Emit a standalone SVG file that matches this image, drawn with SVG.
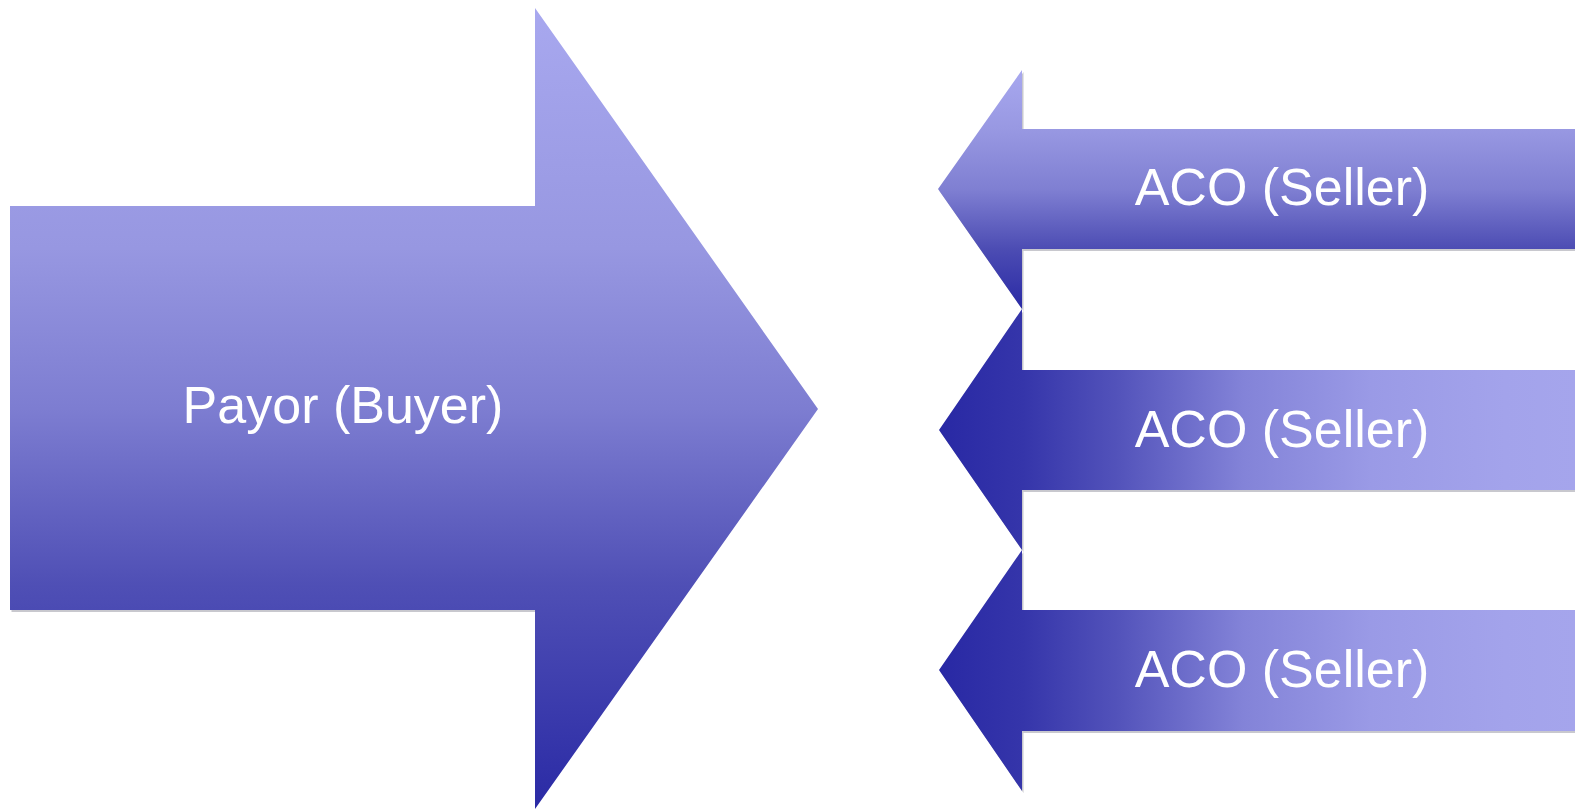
<svg xmlns="http://www.w3.org/2000/svg" width="1575" height="810" viewBox="0 0 1575 810">
  <defs>
    <!-- vertical fill of the buyer arrow -->
    <linearGradient id="gBuyer" gradientUnits="userSpaceOnUse" x1="0" y1="8" x2="0" y2="810">
      <stop offset="0" stop-color="#a8a8ef"/>
      <stop offset="0.3" stop-color="#9797e1"/>
      <stop offset="0.5" stop-color="#7d7dd1"/>
      <stop offset="0.72" stop-color="#4f4fb5"/>
      <stop offset="1" stop-color="#2a2aa5"/>
    </linearGradient>
    <!-- vertical fill of the top seller arrow -->
    <linearGradient id="gSellerV" gradientUnits="userSpaceOnUse" x1="0" y1="70" x2="0" y2="309">
      <stop offset="0" stop-color="#a8a8ef"/>
      <stop offset="0.25" stop-color="#9898e2"/>
      <stop offset="0.5" stop-color="#7f7fd2"/>
      <stop offset="0.75" stop-color="#4c4cb3"/>
      <stop offset="1" stop-color="#2a2aa5"/>
    </linearGradient>
    <!-- horizontal fill of the lower seller arrows -->
    <linearGradient id="gSellerH" gradientUnits="userSpaceOnUse" x1="937" y1="0" x2="1575" y2="0">
      <stop offset="0" stop-color="#2828a4"/>
      <stop offset="0.135" stop-color="#3535aa"/>
      <stop offset="0.28" stop-color="#5252ba"/>
      <stop offset="0.48" stop-color="#8383d8"/>
      <stop offset="0.68" stop-color="#9a9ae6"/>
      <stop offset="0.89" stop-color="#a3a3eb"/>
      <stop offset="1" stop-color="#a5a5ec"/>
    </linearGradient>
  </defs>
  <style>
    .shadow { fill: #9a9aa6; opacity: 0.55; }
    .label { font-family: "Liberation Sans", Arial, sans-serif; font-size: 52px; fill: #ffffff; text-anchor: middle; }
  </style>

  <rect x="0" y="0" width="1575" height="810" fill="#ffffff"/>

  <!-- Buyer: large arrow pointing right -->
  <g id="payor">
    <rect class="shadow" x="11.5" y="208" width="524" height="404"/>
    <polygon fill="url(#gBuyer)" points="10,206 535,206 535,8 818,409 535,809 535,610 10,610"/>
    <text class="label" x="343" y="423">Payor (Buyer)</text>
  </g>

  <!-- Sellers: three arrows pointing left -->
  <g id="seller1">
    <polygon class="shadow" transform="translate(1.5,2)" points="1575,129 1022,129 1022,70 938,189 1022,309 1022,249 1575,249"/>
    <polygon fill="url(#gSellerV)" points="1575,129 1022,129 1022,70 938,189 1022,309 1022,249 1575,249"/>
    <text class="label" x="1282" y="205">ACO (Seller)</text>
  </g>

  <g id="seller2">
    <polygon class="shadow" transform="translate(1.5,2)" points="1575,370 1022,370 1022,309 939,430 1022,550 1022,490 1575,490"/>
    <polygon fill="url(#gSellerH)" points="1575,370 1022,370 1022,309 939,430 1022,550 1022,490 1575,490"/>
    <text class="label" x="1282" y="447">ACO (Seller)</text>
  </g>

  <g id="seller3">
    <polygon class="shadow" transform="translate(1.5,2)" points="1575,610 1022,610 1022,550 939,670 1022,791 1022,731 1575,731"/>
    <polygon fill="url(#gSellerH)" points="1575,610 1022,610 1022,550 939,670 1022,791 1022,731 1575,731"/>
    <text class="label" x="1282" y="687">ACO (Seller)</text>
  </g>

  <!-- no connectors: the arrows themselves carry the flow -->
  <g id="connectors"/>
</svg>
